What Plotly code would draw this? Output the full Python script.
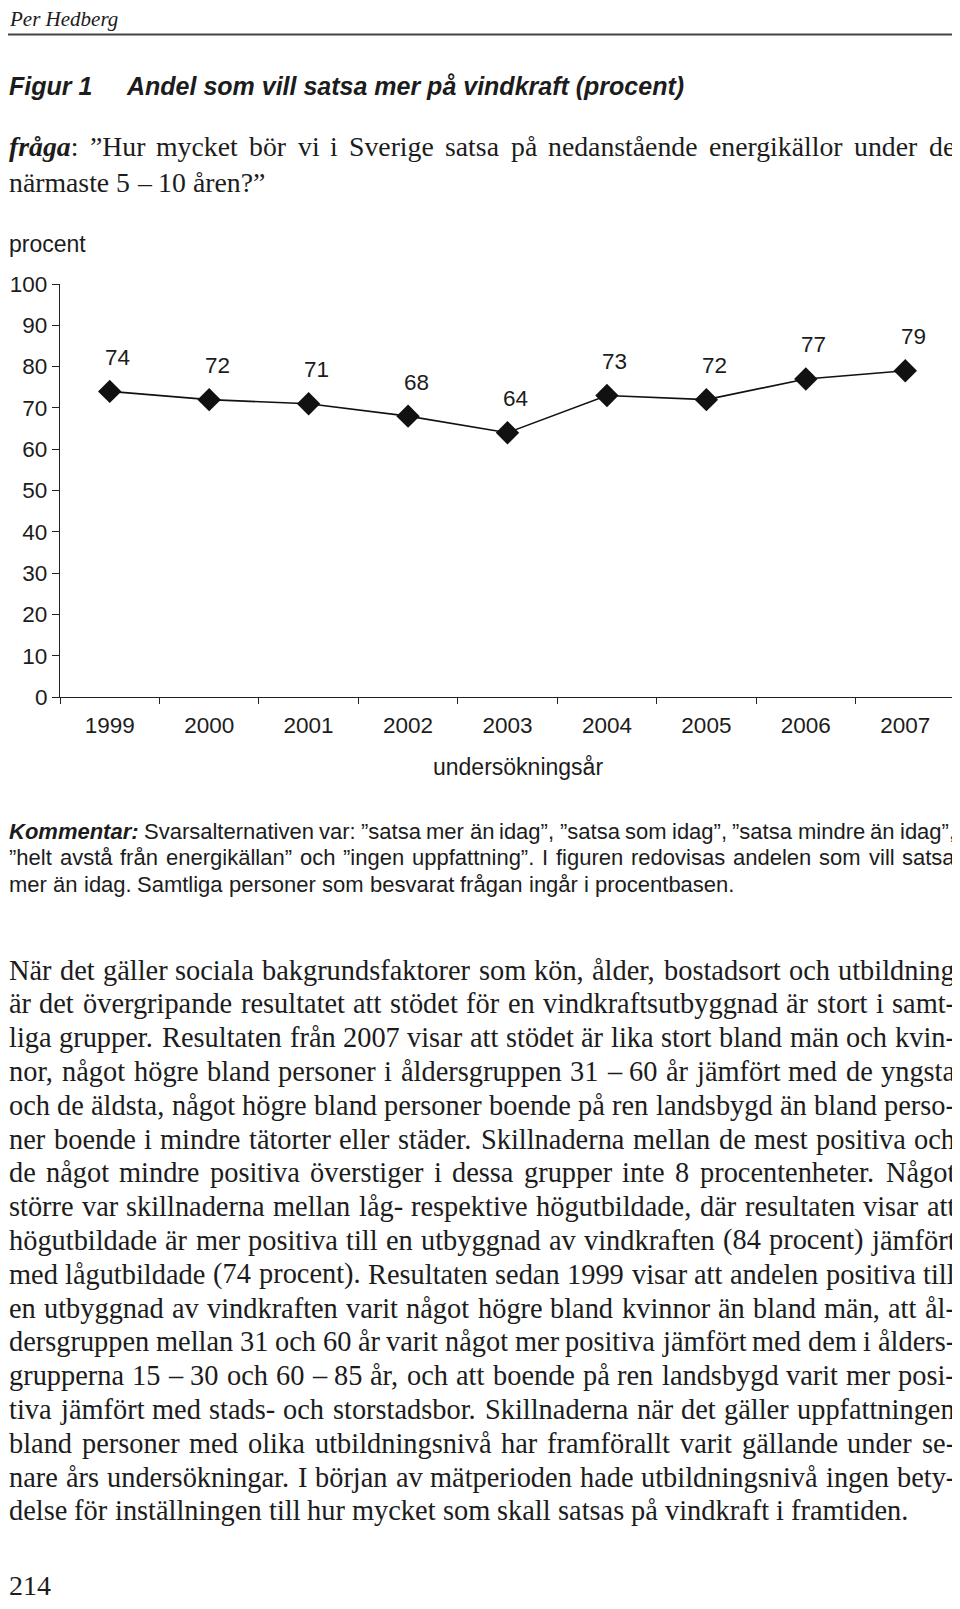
import re
import plotly.graph_objects as go

# ---------------- data ----------------
years = ["1999", "2000", "2001", "2002", "2003", "2004", "2005", "2006", "2007"]
andel = [74, 72, 71, 68, 64, 73, 72, 77, 79]
y_tick_values = [0, 10, 20, 30, 40, 50, 60, 70, 80, 90, 100]

header_author = "Per Hedberg"
figure_label = "Figur 1"
figure_title = "Andel som vill satsa mer på vindkraft (procent)"
question_lines = [
    "<b><i>fråga</i></b>: ”Hur mycket bör vi i Sverige satsa på nedanstående energikällor under de",
    "närmaste 5 – 10 åren?”",
]
y_axis_title = "procent"
x_axis_title = "undersökningsår"
comment_lines = [
    "<b><i>Kommentar:</i></b> Svarsalternativen var: ”satsa mer än idag”, ”satsa som idag”, ”satsa mindre än idag”,",
    "”helt avstå från energikällan” och ”ingen uppfattning”. I figuren redovisas andelen som vill satsa",
    "mer än idag. Samtliga personer som besvarat frågan ingår i procentbasen.",
]
body_lines = [
    "När det gäller sociala bakgrundsfaktorer som kön, ålder, bostadsort och utbildning",
    "är det övergripande resultatet att stödet för en vindkraftsutbyggnad är stort i samt-",
    "liga grupper. Resultaten från 2007 visar att stödet är lika stort bland män och kvin-",
    "nor, något högre bland personer i åldersgruppen 31 – 60 år jämfört med de yngsta",
    "och de äldsta, något högre bland personer boende på ren landsbygd än bland perso-",
    "ner boende i mindre tätorter eller städer. Skillnaderna mellan de mest positiva och",
    "de något mindre positiva överstiger i dessa grupper inte 8 procentenheter. Något",
    "större var skillnaderna mellan låg- respektive högutbildade, där resultaten visar att",
    "högutbildade är mer positiva till en utbyggnad av vindkraften (84 procent) jämfört",
    "med lågutbildade (74 procent). Resultaten sedan 1999 visar att andelen positiva till",
    "en utbyggnad av vindkraften varit något högre bland kvinnor än bland män, att ål-",
    "dersgruppen mellan 31 och 60 år varit något mer positiva jämfört med dem i ålders-",
    "grupperna 15 – 30 och 60 – 85 år, och att boende på ren landsbygd varit mer posi-",
    "tiva jämfört med stads- och storstadsbor. Skillnaderna när det gäller uppfattningen",
    "bland personer med olika utbildningsnivå har framförallt varit gällande under se-",
    "nare års undersökningar. I början av mätperioden hade utbildningsnivå ingen bety-",
    "delse för inställningen till hur mycket som skall satsas på vindkraft i framtiden.",
]
page_number = "214"

# ---------------- layout constants (page pixels) ----------------
PAGE_W, PAGE_H = 960, 1609
BODY_MARGIN = 8                      # default HTML body margin offsets the figure
W, H = PAGE_W - BODY_MARGIN, PAGE_H - 2 * BODY_MARGIN
PL, PR, PT, PB = 60, 955, 284, 697   # plot area in page pixels
INK = "#1c1c1c"
SANS = "Liberation Sans, Arial, Helvetica, sans-serif"
SERIF = "Liberation Serif, Times New Roman, serif"
TEXT_L, TEXT_R = 8, 954


def xp(px):
    return (px - PL) / (PR - PL)


def yp(py):
    return (PB - py) / (PB - PT)


# ---------------- font metrics (AFM, per 1000 em) for justification ----------------
def _table(upper, lower, extra):
    t = {}
    for ch, w in zip("ABCDEFGHIJKLMNOPQRSTUVWXYZ", upper):
        t[ch] = w
    for ch, w in zip("abcdefghijklmnopqrstuvwxyz", lower):
        t[ch] = w
    t.update(extra)
    return t


TIMES = _table(
    [722, 667, 667, 722, 611, 556, 722, 722, 333, 389, 722, 611, 889, 722, 722, 556, 722, 667, 556, 611, 722, 722, 944, 722, 722, 611],
    [444, 500, 444, 500, 444, 333, 500, 500, 278, 278, 500, 278, 778, 500, 500, 500, 500, 333, 389, 278, 500, 500, 722, 500, 500, 444],
    {" ": 250, ",": 250, ".": 250, "-": 333, "–": 500, "(": 333, ")": 333, ":": 278, "?": 444, "”": 444, **{d: 500 for d in "0123456789"}},
)
TIMES_BI = dict(TIMES)
TIMES_BI.update({"f": 333, "r": 389, "a": 500, "g": 500})
HELV = _table(
    [667, 667, 722, 722, 667, 611, 778, 722, 278, 500, 667, 556, 833, 722, 778, 667, 778, 722, 667, 611, 722, 667, 944, 667, 667, 611],
    [556, 556, 500, 556, 556, 278, 556, 556, 222, 222, 500, 222, 833, 556, 556, 556, 556, 333, 500, 278, 556, 500, 722, 500, 500, 500],
    {" ": 278, ",": 278, ".": 278, "-": 333, "–": 556, "(": 333, ")": 333, ":": 278, "?": 556, "”": 333, **{d: 556 for d in "0123456789"}},
)
HELV_B = dict(HELV)
HELV_B.update({"K": 722, "o": 611, "m": 889, "e": 556, "n": 611, "t": 333, "a": 556, "r": 389, ":": 333})
BASE = {"ä": "a", "å": "a", "ö": "o", "Ä": "A", "Å": "A", "Ö": "O", "é": "e"}


def text_width(s, reg, bold, size):
    total = 0
    is_bold = False
    for tok in re.split(r"(<[^>]+>)", s):
        if tok.startswith("<"):
            if tok == "<b>":
                is_bold = True
            elif tok == "</b>":
                is_bold = False
            continue
        tab = bold if is_bold else reg
        for ch in tok:
            total += tab.get(BASE.get(ch, ch), 500)
    return total * size / 1000.0


annotations = []


def add_text(text, x, y, size, family, xanchor="left", color=INK):
    annotations.append(dict(
        text=text, x=xp(x), y=yp(y), xref="paper", yref="paper",
        xanchor=xanchor, yanchor="middle", showarrow=False, borderpad=0,
        font=dict(size=size, family=family, color=color),
    ))


def add_paragraph(lines, y0, dy, size, family, reg, bold, last_justified=False):
    for i, line in enumerate(lines):
        y = y0 + i * dy
        justify = (i < len(lines) - 1) or last_justified
        words = line.split(" ")
        widths = [text_width(w, reg, bold, size) for w in words]
        if justify and len(words) > 1:
            gap = (TEXT_R - TEXT_L - sum(widths)) / (len(words) - 1)
        else:
            gap = reg[" "] * size / 1000.0
        x = TEXT_L
        for w, wd in zip(words, widths):
            add_text(w, x, y, size, family)
            x += wd + gap


# header
add_text("<i>" + header_author + "</i>", TEXT_L, 19, 21, SERIF)
add_text("<b><i>" + figure_label + "</i></b>", TEXT_L, 86, 25, SANS)
add_text("<b><i>" + figure_title + "</i></b>", 125, 86, 25, SANS)

# question
q_size = 256 * 1000.0 / (text_width(question_lines[-1], TIMES, TIMES, 1000))
add_paragraph(question_lines, 146, 37, q_size, SERIF, TIMES, TIMES_BI)

# axis titles
add_text(y_axis_title, TEXT_L, 244, 23, SANS)
add_text(x_axis_title, 518, 767, 23, SANS, xanchor="center")

# comment
add_paragraph(comment_lines, 831, 26.5, 22, SANS, HELV, HELV_B)

# body text
b_size = 900 * 1000.0 / (text_width(body_lines[-1], TIMES, TIMES, 1000))
add_paragraph(body_lines, 970, 33.8, b_size, SERIF, TIMES, TIMES)

# page number
add_text(page_number, TEXT_L, 1585, 28, SERIF)

# data labels (category axis: x given as category index)
for i, v in enumerate(andel):
    annotations.append(dict(
        text=str(v), x=i, y=v, xref="x", yref="y", showarrow=False,
        xanchor="center", yanchor="middle", xshift=8, yshift=34,
        font=dict(size=22.5, family=SANS, color=INK),
    ))

fig = go.Figure()
fig.add_trace(go.Scatter(
    x=years, y=andel, mode="lines+markers",
    line=dict(color="#111111", width=1.6),
    marker=dict(symbol="diamond", size=18, color="#111111"),
    hoverinfo="skip", showlegend=False,
))

fig.update_layout(
    width=W, height=H,
    margin=dict(l=PL - BODY_MARGIN, r=W - (PR - BODY_MARGIN), t=PT - BODY_MARGIN,
                b=H - (PB - BODY_MARGIN), autoexpand=False),
    paper_bgcolor="white", plot_bgcolor="white",
    showlegend=False,
    annotations=annotations,
    shapes=[dict(type="line", xref="paper", yref="paper",
                 x0=xp(TEXT_L), x1=xp(TEXT_R), y0=yp(34.5), y1=yp(34.5),
                 line=dict(color="#444444", width=2))],
    xaxis=dict(
        type="category", range=[-0.5, len(years) - 0.5],
        tickson="boundaries", ticks="outside", ticklen=6, tickwidth=1.2, tickcolor="#222",
        showline=True, linecolor="#222", linewidth=1.2, showgrid=False, zeroline=False,
        tickfont=dict(size=22.5, family=SANS, color=INK), ticklabelstandoff=8,
        automargin=False, fixedrange=True,
    ),
    yaxis=dict(
        range=[0, 100], tickvals=y_tick_values, ticks="outside", ticklen=7, tickwidth=1.2, tickcolor="#222",
        showline=True, linecolor="#222", linewidth=1.2, showgrid=False, zeroline=False,
        tickfont=dict(size=22.5, family=SANS, color=INK),
        automargin=False, fixedrange=True,
    ),
)

fig.write_html("out.html")
